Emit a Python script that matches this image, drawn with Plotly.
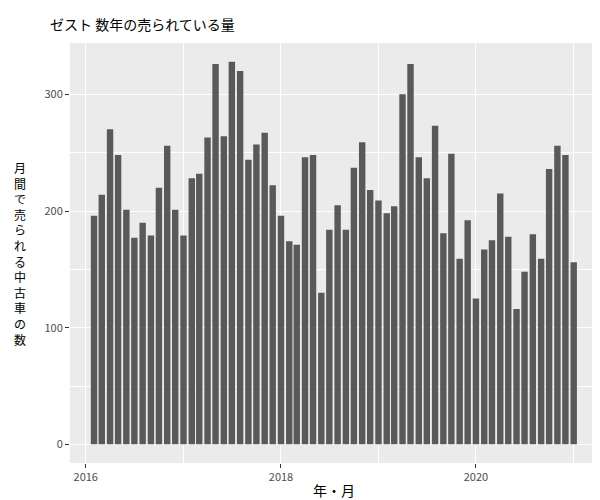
import pandas as pd
import plotly.graph_objects as go

months = pd.date_range("2016-02-01", "2021-01-01", freq="MS")
sales = [196, 214, 270, 248, 201, 177, 190, 179, 220, 256, 201,
         179, 228, 232, 263, 326, 264, 328, 320, 244, 257, 267, 222,
         196, 174, 171, 246, 248, 130, 184, 205, 184, 237, 259, 218,
         209, 198, 204, 300, 326, 246, 228, 273, 181, 249, 159, 192,
         125, 167, 175, 215, 178, 116, 148, 180, 159, 236, 256, 248,
         156]
ylabel = "月間で売られる中古車の数"

font = "Noto Sans CJK JP"
fig = go.Figure(go.Bar(x=months, y=sales, marker_color="#595959",
                       marker_line_width=0, width=24 * 86400000))
fig.update_layout(
    width=600, height=500,
    margin=dict(l=62, r=10, t=35, b=45),
    plot_bgcolor="#EBEBEB", paper_bgcolor="white",
    font=dict(family=font, size=12, color="black"),
    title=dict(text="ゼスト 数年の売られている量", x=0.07, xanchor="left",
               y=0.975, font=dict(size=14)),
    showlegend=False,
)
fig.update_xaxes(range=["2015-11-03", "2021-04-02"], tickformat="%Y",
                 dtick="M24", tick0="2016-01-01", gridcolor="white",
                 ticks="outside", ticklen=4, tickcolor="#333", automargin=False,
                 tickfont=dict(color="#4D4D4D", size=11),
                 title=dict(text="年・月", standoff=2), zeroline=False,
                 minor=dict(dtick="M12", gridcolor="white", gridwidth=0.5))
fig.update_yaxes(range=[-16, 344], tickvals=[0, 100, 200, 300], automargin=False,
                 gridcolor="white", ticks="outside", ticklen=4, tickcolor="#333",
                 tickfont=dict(color="#4D4D4D", size=11), zeroline=False,
                 minor=dict(tickvals=[50, 150, 250], gridcolor="white", gridwidth=0.5))
fig.add_annotation(text="<br>".join(ylabel), xref="paper", yref="paper",
                   x=-0.095, y=0.5, showarrow=False, font=dict(size=12),
                   xanchor="center", yanchor="middle")
fig.write_html("out.html")
